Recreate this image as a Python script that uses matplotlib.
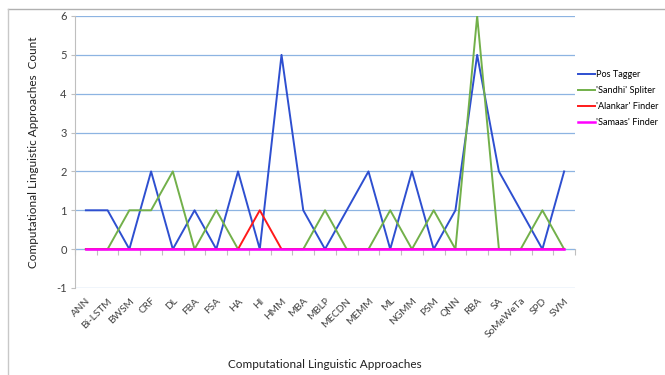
import matplotlib.pyplot as plt
from matplotlib.lines import Line2D

plt.rcParams['font.family'] = ['Lato', 'DejaVu Sans']
plt.rcParams['axes.unicode_minus'] = False

# categories on the x axis
approaches = ['ANN', 'Bi-LSTM', 'BWSM', 'CRF', 'DL', 'FBA', 'FSA', 'HA', 'HI', 'HMM',
              'MBA', 'MBLP', 'MECDN', 'MEMM', 'ML', 'NGMM', 'PSM', 'QNN', 'RBA', 'SA',
              'SoMeWeTa', 'SPD', 'SVM']

# counts per tool
pos_tagger = [1, 1, 0, 2, 0, 1, 0, 2, 0, 5, 1, 0, 1, 2, 0, 2, 0, 1, 5, 2, 1, 0, 2]
sandhi = [0, 0, 1, 1, 2, 0, 1, 0, 0, 0, 0, 1, 0, 0, 1, 0, 1, 0, 6, 0, 0, 1, 0]
alankar = [0, 0, 0, 0, 0, 0, 0, 0, 1, 0, 0, 0, 0, 0, 0, 0, 0, 0, 0, 0, 0, 0, 0]
samaas = [0] * 23

series_names = ["Pos Tagger", "'Sandhi' Spliter", "'Alankar' Finder", "'Samaas' Finder"]

fig = plt.figure(figsize=(6.65, 3.75), dpi=100)
ax = fig.add_axes([75 / 665, 1 - 288 / 375, 500 / 665, 272 / 375])

x = list(range(len(approaches)))
ax.plot(x, pos_tagger, color='#2e4fd0', lw=1.4, label=series_names[0])
ax.plot(x, sandhi, color='#72b04a', lw=1.4, label=series_names[1])
ax.plot(x, alankar, color='#ff1a1a', lw=1.4, label=series_names[2])
ax.plot(x, samaas, color='#ff00ff', lw=1.8, label=series_names[3])

ax.set_xlim(-0.5, len(approaches) - 0.5)
ax.set_ylim(-1, 6)
ax.set_yticks(range(-1, 7))
ax.yaxis.grid(True, color='#8db4e2', lw=0.9)
ax.set_axisbelow(True)

for s in ['top', 'right', 'bottom']:
    ax.spines[s].set_visible(False)
ax.spines['left'].set_color('#bfbfbf')
ax.tick_params(axis='y', length=3, color='#bfbfbf', labelsize=8, pad=3, labelcolor='#404040')

ax.set_xticks(x)
ax.set_xticklabels(approaches, rotation=45, ha='right', rotation_mode='anchor',
                   fontsize=7.3, color='#404040')
ax.tick_params(axis='x', length=0, pad=6)

# horizontal axis line at zero with boundary ticks
sec = ax.secondary_xaxis(1 / 7)
sec.set_xticks([i + 0.5 for i in range(-1, len(approaches))])
sec.set_xticklabels([])
sec.tick_params(length=4, color='#bfbfbf', direction='out')
sec.spines['bottom'].set_color('#bfbfbf')

ax.set_xlabel('Computational Linguistic Approaches', fontsize=8.5, color='#202020', labelpad=14)
ax.set_ylabel('Computational Linguistic Approaches  Count', fontsize=8.5, color='#202020', labelpad=12)

ax.legend(loc='upper left', bbox_to_anchor=(1.0, 0.81), frameon=False, fontsize=6.6,
          handlelength=1.9, handletextpad=0.1, labelspacing=0.75, borderaxespad=0.1,
          borderpad=0.2)

# chart area border
fig.add_artist(Line2D([8 / 665, 1], [1 - 9 / 375, 1 - 9 / 375], color='#b0b0b0', lw=1))
fig.add_artist(Line2D([8 / 665, 8 / 665], [0, 1 - 9 / 375], color='#c8c8c8', lw=1))

fig.savefig('out.png', dpi=100)
